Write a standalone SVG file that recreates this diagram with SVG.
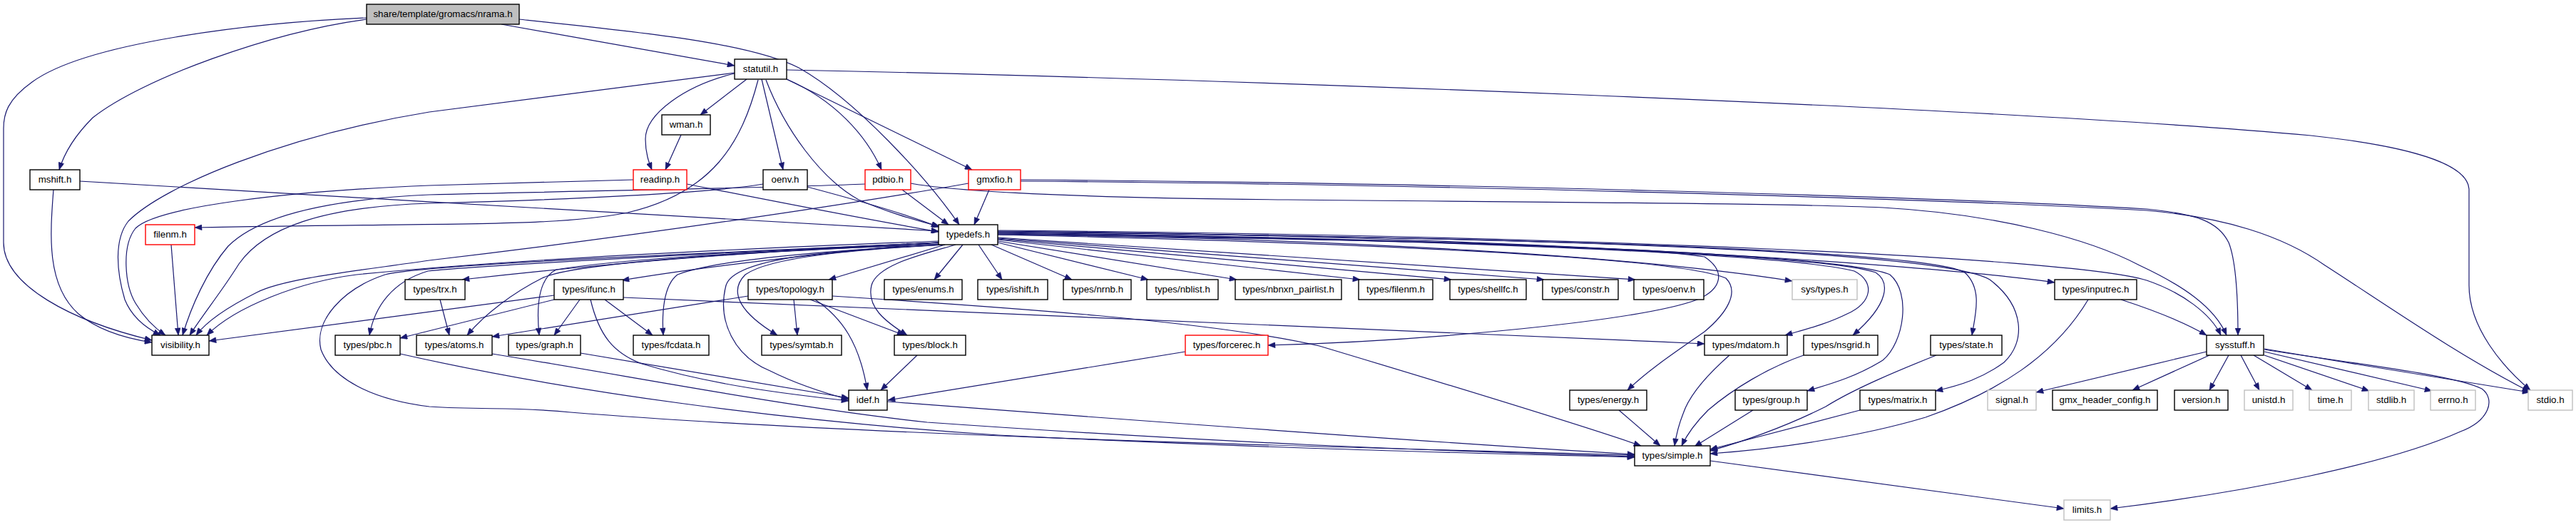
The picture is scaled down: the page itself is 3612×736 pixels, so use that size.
<svg xmlns="http://www.w3.org/2000/svg" width="3612" height="736" viewBox="0 0 3612 736">
<defs>
<style>
.n rect{fill:#fff;stroke:#000;stroke-width:1.4}
.n.r rect{stroke:#f00}
.n.g rect{stroke:#bfbfbf}
.n.root rect{fill:#bfbfbf}
.n text{font-family:"Liberation Sans",Arial,sans-serif;font-size:13.3px;text-anchor:middle;fill:#000}
#edges path{fill:none;stroke:#191970;stroke-width:1.2;marker-end:url(#ah)}
</style>
<marker id="ah" viewBox="0 0 10 8" refX="10" refY="4" markerWidth="11" markerHeight="8" orient="auto" markerUnits="userSpaceOnUse"><path d="M0,0L10,4L0,8z" fill="#191970" stroke="#191970" stroke-width="0.5"/></marker>
</defs>
<rect width="3612" height="736" fill="#fff"/>
<g id="edges">
<path d="M514,25 C350,32 120,60 45,115 C10,140 5,160 5,180 L5,340 C5,400 100,450 213,477"/>
<path d="M514,27 C380,45 200,110 130,165 C105,190 90,215 83,238"/>
<path d="M703,34 L1030,92"/>
<path d="M728,27 C900,45 1050,60 1120,95 C1200,140 1300,250 1345,315"/>
<path d="M75,266 C70,330 65,400 110,440 C140,465 180,475 213,480"/>
<path d="M112,254 C500,278 1000,305 1316,324"/>
<path d="M1103,98 C1700,110 2800,150 3240,190 C3380,205 3460,230 3462,265 L3462,400 C3462,460 3510,515 3548,547"/>
<path d="M1030,102 L602,157 C400,190 230,260 180,310 C160,335 163,380 175,420 C185,445 205,460 225,470"/>
<path d="M1030,103 C960,120 905,160 905,195 C905,215 910,228 914,238"/>
<path d="M1047,111 L982,161"/>
<path d="M955,189 L933,238"/>
<path d="M1068,111 L1098,238"/>
<path d="M1063,112 C1040,200 1000,270 880,298 C780,318 650,312 273,319"/>
<path d="M1074,112 C1100,180 1150,250 1204,280 C1250,300 1290,310 1318,318"/>
<path d="M1103,111 C1170,140 1215,190 1236,238"/>
<path d="M1103,111 L1363,238"/>
<path d="M888,252 L602,260 C400,268 220,290 190,320 C170,345 175,400 190,425 C205,450 220,462 232,470"/>
<path d="M963,258 C1100,285 1200,305 1316,325"/>
<path d="M1070,258 C1000,270 800,280 602,285 C450,290 370,320 335,370 C310,410 285,440 266,470"/>
<path d="M1132,262 C1200,280 1270,300 1316,318"/>
<path d="M1213,258 C1100,263 800,268 602,273 C450,280 360,305 320,345 C290,380 268,430 256,470"/>
<path d="M1265,266 L1330,315"/>
<path d="M1277,257 C1320,265 1450,277 1806,280 C2200,284 2500,285 2640,291 C2800,300 2930,335 3000,372 C3060,400 3105,430 3122,470"/>
<path d="M1358,257 C1200,285 900,330 602,365 C500,380 400,390 360,410 C320,430 290,450 275,470"/>
<path d="M1387,266 L1366,315"/>
<path d="M1431,252 C2000,256 2700,275 3010,293 C3080,300 3110,310 3125,340 C3135,365 3138,420 3138,470"/>
<path d="M1431,254 C2000,258 2700,278 3010,295 C3120,305 3200,330 3260,372 C3350,430 3450,500 3547,549"/>
<path d="M240,343 L250,470"/>
<path d="M1316,338 C1000,350 700,365 500,385 C420,395 330,430 290,470"/>
<path d="M777,414 L293,478"/>
<path d="M1316,340 C1000,355 800,375 648,392"/>
<path d="M1316,340 C1100,360 950,380 872,393"/>
<path d="M1318,342 C1000,355 800,370 760,390 C720,410 680,440 655,470"/>
<path d="M1318,342 C1000,355 860,365 780,378 C755,390 752,430 756,470"/>
<path d="M1316,340 C1000,355 700,370 600,380 C550,395 525,430 518,470"/>
<path d="M1316,340 C1000,355 600,370 540,385 C480,405 440,450 450,490 C465,530 520,560 602,570 C680,575 720,570 800,578 C1200,610 1800,625 2292,638"/>
<path d="M1320,343 C1150,352 1000,365 950,385 C930,400 928,440 930,470"/>
<path d="M1325,343 L1162,392"/>
<path d="M1325,343 C1200,350 1080,360 1045,385 C1020,410 1040,440 1090,470"/>
<path d="M1325,343 C1180,350 1030,360 1018,400 C1005,450 1030,500 1080,520 C1120,540 1160,552 1190,560"/>
<path d="M1340,343 C1300,355 1230,370 1222,400 C1215,430 1240,450 1272,470"/>
<path d="M1350,343 L1310,392"/>
<path d="M1372,343 L1405,392"/>
<path d="M1390,343 L1503,392"/>
<path d="M1399,340 L1610,392"/>
<path d="M1399,338 L1734,392"/>
<path d="M1399,336 L1907,392"/>
<path d="M1399,335 L2035,392"/>
<path d="M1399,334 L2165,392"/>
<path d="M1399,333 L2293,392"/>
<path d="M1399,329 C1900,335 2300,345 2390,360 C2420,380 2415,405 2380,420 C2300,450 2000,478 1778,484"/>
<path d="M1399,329 C1900,340 2350,360 2420,390 C2440,410 2420,440 2390,465 C2340,500 2310,520 2282,547"/>
<path d="M1399,328 C1900,335 2300,360 2513,394"/>
<path d="M1399,327 C2000,335 2500,355 2600,380 C2630,395 2625,425 2590,440 C2560,455 2530,462 2503,470"/>
<path d="M1399,327 C2000,335 2550,355 2630,382 C2650,395 2650,425 2598,470"/>
<path d="M1399,326 C2000,334 2580,355 2650,385 C2680,410 2670,480 2640,505 C2600,530 2560,540 2534,548"/>
<path d="M1399,325 C2100,332 2700,350 2755,382 C2780,405 2770,440 2765,470"/>
<path d="M1399,325 C2100,332 2720,350 2790,392 C2840,430 2840,480 2810,508 C2780,530 2750,540 2714,548"/>
<path d="M1399,324 C2100,330 2700,370 2881,396"/>
<path d="M1399,323 C2200,330 2900,360 3010,393 C3060,410 3100,440 3114,470"/>
<path d="M2928,420 C2880,500 2800,550 2700,585 C2600,615 2480,630 2398,636"/>
<path d="M2974,420 C3020,435 3060,450 3094,470"/>
<path d="M1049,415 L690,472"/>
<path d="M1113,420 L1118,470"/>
<path d="M1136,420 L1268,470"/>
<path d="M1143,420 C1180,445 1205,480 1216,547"/>
<path d="M1167,415 C1400,430 1700,450 1850,485 C2000,530 2200,590 2301,625"/>
<path d="M617,420 L630,470"/>
<path d="M777,420 L561,474"/>
<path d="M813,420 L777,470"/>
<path d="M828,420 C840,470 860,495 900,510 C1000,540 1100,552 1190,562"/>
<path d="M848,420 L915,470"/>
<path d="M874,417 C1200,430 1800,455 2390,482"/>
<path d="M690,496 C900,530 1100,570 1300,592 C1700,620 2000,632 2292,640"/>
<path d="M561,496 C800,550 1100,590 1400,610 C1800,630 2100,636 2292,641"/>
<path d="M814,495 L1190,558"/>
<path d="M1244,563 C1600,590 2000,620 2292,637"/>
<path d="M1286,498 L1235,547"/>
<path d="M1662,493 L1245,561"/>
<path d="M2270,575 L2328,625"/>
<path d="M2425,498 C2400,520 2370,550 2360,580 C2352,600 2350,612 2348,625"/>
<path d="M2529,498 C2480,515 2430,545 2395,575 C2375,595 2365,610 2358,625"/>
<path d="M2458,575 L2376,626"/>
<path d="M2608,575 L2398,630"/>
<path d="M2715,498 C2660,520 2600,545 2560,570 C2500,600 2440,620 2398,632"/>
<path d="M2398,646 L2894,713"/>
<path d="M3094,493 L2855,550"/>
<path d="M3098,498 L2990,547"/>
<path d="M3125,498 L3098,547"/>
<path d="M3142,498 L3168,547"/>
<path d="M3160,498 L3242,547"/>
<path d="M3175,498 L3322,548"/>
<path d="M3175,493 L3410,548"/>
<path d="M3175,489 C3300,510 3450,535 3547,550"/>
<path d="M3175,490 C3300,510 3440,525 3480,545 C3500,560 3490,590 3450,605 C3350,650 3150,690 2959,713"/>
</g>
<g id="n_nrama" class="n root"><rect x="514" y="6" width="214" height="28"/><text x="621" y="24">share/template/gromacs/nrama.h</text></g>
<g id="n_statutil" class="n"><rect x="1030" y="83" width="73" height="28"/><text x="1066.5" y="101">statutil.h</text></g>
<g id="n_wman" class="n"><rect x="928" y="161" width="68" height="28"/><text x="962" y="179">wman.h</text></g>
<g id="n_mshift" class="n"><rect x="42" y="238" width="70" height="28"/><text x="77" y="256">mshift.h</text></g>
<g id="n_readinp" class="n r"><rect x="888" y="238" width="75" height="28"/><text x="925.5" y="256">readinp.h</text></g>
<g id="n_oenv" class="n"><rect x="1070" y="238" width="62" height="28"/><text x="1101" y="256">oenv.h</text></g>
<g id="n_pdbio" class="n r"><rect x="1213" y="238" width="64" height="28"/><text x="1245" y="256">pdbio.h</text></g>
<g id="n_gmxfio" class="n r"><rect x="1358" y="238" width="73" height="28"/><text x="1394.5" y="256">gmxfio.h</text></g>
<g id="n_filenm" class="n r"><rect x="204" y="315" width="69" height="28"/><text x="238.5" y="333">filenm.h</text></g>
<g id="n_typedefs" class="n"><rect x="1316" y="315" width="83" height="28"/><text x="1357.5" y="333">typedefs.h</text></g>
<g id="n_trx" class="n"><rect x="568" y="392" width="84" height="28"/><text x="610" y="410">types/trx.h</text></g>
<g id="n_ifunc" class="n"><rect x="777" y="392" width="97" height="28"/><text x="825.5" y="410">types/ifunc.h</text></g>
<g id="n_topology" class="n"><rect x="1049" y="392" width="118" height="28"/><text x="1108" y="410">types/topology.h</text></g>
<g id="n_enums" class="n"><rect x="1240" y="392" width="109" height="28"/><text x="1294.5" y="410">types/enums.h</text></g>
<g id="n_ishift" class="n"><rect x="1371" y="392" width="98" height="28"/><text x="1420" y="410">types/ishift.h</text></g>
<g id="n_nrnb" class="n"><rect x="1491" y="392" width="95" height="28"/><text x="1538.5" y="410">types/nrnb.h</text></g>
<g id="n_nblist" class="n"><rect x="1608" y="392" width="100" height="28"/><text x="1658" y="410">types/nblist.h</text></g>
<g id="n_nbnxn" class="n"><rect x="1732" y="392" width="149" height="28"/><text x="1806.5" y="410">types/nbnxn_pairlist.h</text></g>
<g id="n_tfilenm" class="n"><rect x="1905" y="392" width="104" height="28"/><text x="1957" y="410">types/filenm.h</text></g>
<g id="n_shellfc" class="n"><rect x="2033" y="392" width="107" height="28"/><text x="2086.5" y="410">types/shellfc.h</text></g>
<g id="n_constr" class="n"><rect x="2163" y="392" width="106" height="28"/><text x="2216" y="410">types/constr.h</text></g>
<g id="n_toenv" class="n"><rect x="2291" y="392" width="98" height="28"/><text x="2340" y="410">types/oenv.h</text></g>
<g id="n_systypes" class="n g"><rect x="2513" y="392" width="91" height="28"/><text x="2558.5" y="410">sys/types.h</text></g>
<g id="n_inputrec" class="n"><rect x="2881" y="392" width="115" height="28"/><text x="2938.5" y="410">types/inputrec.h</text></g>
<g id="n_visibility" class="n"><rect x="213" y="470" width="80" height="28"/><text x="253" y="488">visibility.h</text></g>
<g id="n_pbc" class="n"><rect x="470" y="470" width="91" height="28"/><text x="515.5" y="488">types/pbc.h</text></g>
<g id="n_atoms" class="n"><rect x="584" y="470" width="106" height="28"/><text x="637" y="488">types/atoms.h</text></g>
<g id="n_graph" class="n"><rect x="713" y="470" width="101" height="28"/><text x="763.5" y="488">types/graph.h</text></g>
<g id="n_fcdata" class="n"><rect x="888" y="470" width="106" height="28"/><text x="941" y="488">types/fcdata.h</text></g>
<g id="n_symtab" class="n"><rect x="1068" y="470" width="112" height="28"/><text x="1124" y="488">types/symtab.h</text></g>
<g id="n_block" class="n"><rect x="1254" y="470" width="100" height="28"/><text x="1304" y="488">types/block.h</text></g>
<g id="n_forcerec" class="n r"><rect x="1662" y="470" width="116" height="28"/><text x="1720" y="488">types/forcerec.h</text></g>
<g id="n_mdatom" class="n"><rect x="2390" y="470" width="116" height="28"/><text x="2448" y="488">types/mdatom.h</text></g>
<g id="n_nsgrid" class="n"><rect x="2529" y="470" width="104" height="28"/><text x="2581" y="488">types/nsgrid.h</text></g>
<g id="n_state" class="n"><rect x="2707" y="470" width="100" height="28"/><text x="2757" y="488">types/state.h</text></g>
<g id="n_sysstuff" class="n"><rect x="3094" y="470" width="80" height="28"/><text x="3134" y="488">sysstuff.h</text></g>
<g id="n_idef" class="n"><rect x="1190" y="547" width="54" height="28"/><text x="1217" y="565">idef.h</text></g>
<g id="n_energy" class="n"><rect x="2201" y="547" width="108" height="28"/><text x="2255" y="565">types/energy.h</text></g>
<g id="n_group" class="n"><rect x="2433" y="547" width="101" height="28"/><text x="2483.5" y="565">types/group.h</text></g>
<g id="n_matrix" class="n"><rect x="2608" y="547" width="106" height="28"/><text x="2661" y="565">types/matrix.h</text></g>
<g id="n_signal" class="n g"><rect x="2787" y="547" width="68" height="28"/><text x="2821" y="565">signal.h</text></g>
<g id="n_gmxhc" class="n"><rect x="2878" y="547" width="147" height="28"/><text x="2951.5" y="565">gmx_header_config.h</text></g>
<g id="n_version" class="n"><rect x="3049" y="547" width="75" height="28"/><text x="3086.5" y="565">version.h</text></g>
<g id="n_unistd" class="n g"><rect x="3147" y="547" width="68" height="28"/><text x="3181" y="565">unistd.h</text></g>
<g id="n_time" class="n g"><rect x="3238" y="547" width="59" height="28"/><text x="3267.5" y="565">time.h</text></g>
<g id="n_stdlib" class="n g"><rect x="3321" y="547" width="64" height="28"/><text x="3353" y="565">stdlib.h</text></g>
<g id="n_errno" class="n g"><rect x="3408" y="547" width="63" height="28"/><text x="3439.5" y="565">errno.h</text></g>
<g id="n_stdio" class="n g"><rect x="3545" y="547" width="62" height="28"/><text x="3576" y="565">stdio.h</text></g>
<g id="n_simple" class="n"><rect x="2292" y="625" width="106" height="28"/><text x="2345" y="643">types/simple.h</text></g>
<g id="n_limits" class="n g"><rect x="2894" y="701" width="65" height="28"/><text x="2926.5" y="719">limits.h</text></g>
</svg>
